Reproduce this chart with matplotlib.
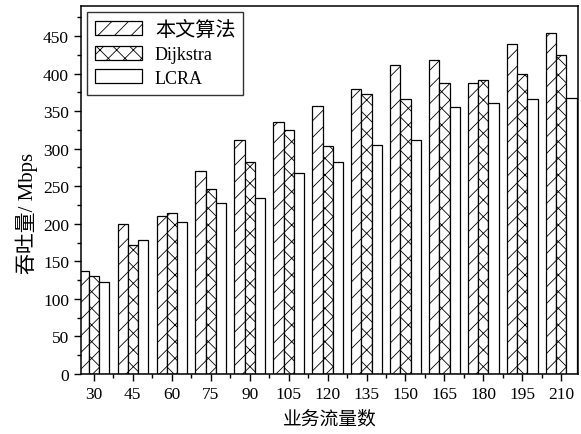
import numpy as np
import matplotlib.pyplot as plt
from matplotlib.ticker import MultipleLocator

plt.rcParams['font.family'] = ['Liberation Serif', 'Noto Sans CJK SC']
plt.rcParams['hatch.linewidth'] = 0.6

flows = ['30', '45', '60', '75', '90', '105', '120', '135', '150', '165', '180', '195', '210']
ours = [137, 200, 210, 270, 312, 335, 357, 379, 412, 418, 387, 440, 454]
dijkstra = [130, 172, 214, 246, 282, 325, 304, 373, 366, 387, 392, 399, 425]
lcra = [122, 178, 203, 228, 234, 267, 282, 305, 311, 355, 361, 366, 367]

fig = plt.figure(figsize=(5.81, 4.35), dpi=100)
ax = fig.add_axes([0.139, 0.138, 0.856, 0.846])

x = np.arange(len(flows))
w = 0.26
ax.bar(x - w, ours, w, color='white', edgecolor='black', hatch='//', linewidth=0.9, label='本文算法')
ax.bar(x, dijkstra, w, color='white', edgecolor='black', hatch='xx', linewidth=0.9, label='Dijkstra')
ax.bar(x + w, lcra, w, color='white', edgecolor='black', linewidth=0.9, label='LCRA')

ax.set_xlim(-0.335, 12.43)
ax.set_ylim(0, 490)
ax.set_xticks(x)
ax.set_xticklabels(flows)
ax.xaxis.set_minor_locator(MultipleLocator(0.5))
ax.yaxis.set_major_locator(MultipleLocator(50))
ax.yaxis.set_minor_locator(MultipleLocator(25))
ax.tick_params(which='major', direction='out', length=5, width=1, labelsize=12.5)
ax.tick_params(which='minor', direction='out', length=3, width=1)
for s in ax.spines.values():
    s.set_linewidth(1.1)

ax.set_ylabel('吞吐量/ Mbps', fontsize=15)
ax.yaxis.set_label_coords(-0.085, 0.44)
ax.set_xlabel('业务流量数', fontsize=13.5, labelpad=6)

leg = ax.legend(loc='upper left', fontsize=13, handlelength=2.6, handleheight=0.8,
                frameon=True, fancybox=False, edgecolor='black', borderpad=0.45,
                labelspacing=0.35, handletextpad=0.7, borderaxespad=0.35)
leg.get_frame().set_linewidth(1)
leg.get_texts()[0].set_fontsize(14.5)

fig.savefig('out.png', dpi=100)
